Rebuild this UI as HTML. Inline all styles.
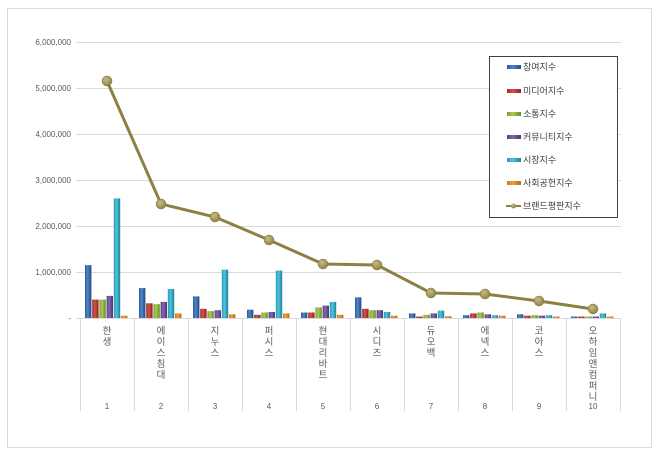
<!DOCTYPE html>
<html><head><meta charset="utf-8"><style>
html,body{margin:0;padding:0;background:#fff;}
svg{display:block;font-family:"Liberation Sans","Noto Sans CJK KR",sans-serif;}
</style></head><body>
<svg width="660" height="453" viewBox="0 0 660 453" xmlns="http://www.w3.org/2000/svg">
<defs>
<linearGradient id="g0" x1="0" x2="1"><stop offset="0" stop-color="#2a5a9a"/><stop offset=".4" stop-color="#4f86c6"/><stop offset="1" stop-color="#1f4a85"/></linearGradient>
<linearGradient id="g1" x1="0" x2="1"><stop offset="0" stop-color="#a02826"/><stop offset=".4" stop-color="#d4504d"/><stop offset="1" stop-color="#8e2220"/></linearGradient>
<linearGradient id="g2" x1="0" x2="1"><stop offset="0" stop-color="#7a9a30"/><stop offset=".4" stop-color="#a8cc55"/><stop offset="1" stop-color="#6a8a28"/></linearGradient>
<linearGradient id="g3" x1="0" x2="1"><stop offset="0" stop-color="#5a3f82"/><stop offset=".4" stop-color="#8466b0"/><stop offset="1" stop-color="#4e3672"/></linearGradient>
<linearGradient id="g4" x1="0" x2="1"><stop offset="0" stop-color="#2a96b0"/><stop offset=".4" stop-color="#4fc4dc"/><stop offset="1" stop-color="#1f8198"/></linearGradient>
<linearGradient id="g5" x1="0" x2="1"><stop offset="0" stop-color="#d07818"/><stop offset=".4" stop-color="#f4a040"/><stop offset="1" stop-color="#b86610"/></linearGradient>
<radialGradient id="mk" cx=".4" cy=".35" r=".7"><stop offset="0" stop-color="#c8bc80"/><stop offset="1" stop-color="#8a7e45"/></radialGradient>
</defs>
<rect x="7.5" y="8.5" width="644" height="439" fill="#fff" stroke="#d9d9d9"/>
<g stroke="#d9d9d9" stroke-width="1">
<line x1="76" y1="42.5" x2="621" y2="42.5"/>
<line x1="76" y1="88.5" x2="621" y2="88.5"/>
<line x1="76" y1="134.5" x2="621" y2="134.5"/>
<line x1="76" y1="180.5" x2="621" y2="180.5"/>
<line x1="76" y1="226.5" x2="621" y2="226.5"/>
<line x1="76" y1="272.5" x2="621" y2="272.5"/>
<line x1="76" y1="318.5" x2="621" y2="318.5"/>
</g>
<g font-size="8" fill="#595959" text-anchor="end">
<text x="71" y="45">6,000,000</text>
<text x="71" y="91">5,000,000</text>
<text x="71" y="137">4,000,000</text>
<text x="71" y="183">3,000,000</text>
<text x="71" y="229">2,000,000</text>
<text x="71" y="275">1,000,000</text>
<text x="71" y="321">-</text>
</g>
<g stroke="#d9d9d9">
<line x1="80.5" y1="318" x2="80.5" y2="411"/><line x1="134.5" y1="318" x2="134.5" y2="411"/><line x1="188.5" y1="318" x2="188.5" y2="411"/><line x1="242.5" y1="318" x2="242.5" y2="411"/><line x1="296.5" y1="318" x2="296.5" y2="411"/><line x1="350.5" y1="318" x2="350.5" y2="411"/><line x1="404.5" y1="318" x2="404.5" y2="411"/><line x1="458.5" y1="318" x2="458.5" y2="411"/><line x1="512.5" y1="318" x2="512.5" y2="411"/><line x1="566.5" y1="318" x2="566.5" y2="411"/><line x1="620.5" y1="318" x2="620.5" y2="411"/>
</g>
<g>
<rect x="85" y="265.1" width="6.4" height="52.9" fill="url(#g0)"/><rect x="92.2" y="299.6" width="6.4" height="18.4" fill="url(#g1)"/><rect x="99.4" y="299.6" width="6.4" height="18.4" fill="url(#g2)"/><rect x="106.6" y="295.9" width="6.4" height="22.1" fill="url(#g3)"/><rect x="113.8" y="198.4" width="6.4" height="119.6" fill="url(#g4)"/><rect x="121" y="315.7" width="6.4" height="2.3" fill="url(#g5)"/>
<rect x="139" y="288.1" width="6.4" height="29.9" fill="url(#g0)"/><rect x="146.2" y="303.3" width="6.4" height="14.7" fill="url(#g1)"/><rect x="153.4" y="304.2" width="6.4" height="13.8" fill="url(#g2)"/><rect x="160.6" y="301.9" width="6.4" height="16.1" fill="url(#g3)"/><rect x="167.8" y="289" width="6.4" height="29" fill="url(#g4)"/><rect x="175" y="313.4" width="6.4" height="4.6" fill="url(#g5)"/>
<rect x="193" y="296.4" width="6.4" height="21.6" fill="url(#g0)"/><rect x="200.2" y="308.8" width="6.4" height="9.2" fill="url(#g1)"/><rect x="207.4" y="311.1" width="6.4" height="6.9" fill="url(#g2)"/><rect x="214.6" y="310.2" width="6.4" height="7.8" fill="url(#g3)"/><rect x="221.8" y="269.7" width="6.4" height="48.3" fill="url(#g4)"/><rect x="229" y="314.3" width="6.4" height="3.7" fill="url(#g5)"/>
<rect x="247" y="309.7" width="6.4" height="8.3" fill="url(#g0)"/><rect x="254.2" y="314.8" width="6.4" height="3.2" fill="url(#g1)"/><rect x="261.4" y="312.5" width="6.4" height="5.5" fill="url(#g2)"/><rect x="268.6" y="312" width="6.4" height="6" fill="url(#g3)"/><rect x="275.8" y="270.6" width="6.4" height="47.4" fill="url(#g4)"/><rect x="283" y="313.4" width="6.4" height="4.6" fill="url(#g5)"/>
<rect x="301" y="312.5" width="6.4" height="5.5" fill="url(#g0)"/><rect x="308.2" y="312.5" width="6.4" height="5.5" fill="url(#g1)"/><rect x="315.4" y="307.4" width="6.4" height="10.6" fill="url(#g2)"/><rect x="322.6" y="305.6" width="6.4" height="12.4" fill="url(#g3)"/><rect x="329.8" y="301.9" width="6.4" height="16.1" fill="url(#g4)"/><rect x="337" y="314.8" width="6.4" height="3.2" fill="url(#g5)"/>
<rect x="355" y="297.3" width="6.4" height="20.7" fill="url(#g0)"/><rect x="362.2" y="308.8" width="6.4" height="9.2" fill="url(#g1)"/><rect x="369.4" y="310.2" width="6.4" height="7.8" fill="url(#g2)"/><rect x="376.6" y="310.2" width="6.4" height="7.8" fill="url(#g3)"/><rect x="383.8" y="312" width="6.4" height="6" fill="url(#g4)"/><rect x="391" y="315.7" width="6.4" height="2.3" fill="url(#g5)"/>
<rect x="409" y="313.4" width="6.4" height="4.6" fill="url(#g0)"/><rect x="416.2" y="316.5" width="6.4" height="1.5" fill="url(#g1)"/><rect x="423.4" y="314.8" width="6.4" height="3.2" fill="url(#g2)"/><rect x="430.6" y="313.4" width="6.4" height="4.6" fill="url(#g3)"/><rect x="437.8" y="310.6" width="6.4" height="7.4" fill="url(#g4)"/><rect x="445" y="316.2" width="6.4" height="1.8" fill="url(#g5)"/>
<rect x="463" y="315.2" width="6.4" height="2.8" fill="url(#g0)"/><rect x="470.2" y="313.4" width="6.4" height="4.6" fill="url(#g1)"/><rect x="477.4" y="312.5" width="6.4" height="5.5" fill="url(#g2)"/><rect x="484.6" y="314.3" width="6.4" height="3.7" fill="url(#g3)"/><rect x="491.8" y="315.2" width="6.4" height="2.8" fill="url(#g4)"/><rect x="499" y="315.7" width="6.4" height="2.3" fill="url(#g5)"/>
<rect x="517" y="314.3" width="6.4" height="3.7" fill="url(#g0)"/><rect x="524.2" y="315.7" width="6.4" height="2.3" fill="url(#g1)"/><rect x="531.4" y="315.2" width="6.4" height="2.8" fill="url(#g2)"/><rect x="538.6" y="315.7" width="6.4" height="2.3" fill="url(#g3)"/><rect x="545.8" y="315.2" width="6.4" height="2.8" fill="url(#g4)"/><rect x="553" y="316.5" width="6.4" height="1.5" fill="url(#g5)"/>
<rect x="571" y="316.5" width="6.4" height="1.5" fill="url(#g0)"/><rect x="578.2" y="316.5" width="6.4" height="1.5" fill="url(#g1)"/><rect x="585.4" y="316.5" width="6.4" height="1.5" fill="url(#g2)"/><rect x="592.6" y="316.5" width="6.4" height="1.5" fill="url(#g3)"/><rect x="599.8" y="313.4" width="6.4" height="4.6" fill="url(#g4)"/><rect x="607" y="316.5" width="6.4" height="1.5" fill="url(#g5)"/>
</g>
<g font-size="9.5" fill="#595959" text-anchor="middle">
<text x="107" y="334">한</text><text x="107" y="345">생</text>
<text x="161" y="334">에</text><text x="161" y="345">이</text><text x="161" y="356">스</text><text x="161" y="367">침</text><text x="161" y="378">대</text>
<text x="215" y="334">지</text><text x="215" y="345">누</text><text x="215" y="356">스</text>
<text x="269" y="334">퍼</text><text x="269" y="345">시</text><text x="269" y="356">스</text>
<text x="323" y="334">현</text><text x="323" y="345">대</text><text x="323" y="356">리</text><text x="323" y="367">바</text><text x="323" y="378">트</text>
<text x="377" y="334">시</text><text x="377" y="345">디</text><text x="377" y="356">즈</text>
<text x="431" y="334">듀</text><text x="431" y="345">오</text><text x="431" y="356">백</text>
<text x="485" y="334">에</text><text x="485" y="345">넥</text><text x="485" y="356">스</text>
<text x="539" y="334">코</text><text x="539" y="345">아</text><text x="539" y="356">스</text>
<text x="593" y="334">오</text><text x="593" y="345">하</text><text x="593" y="356">임</text><text x="593" y="367">앤</text><text x="593" y="378">컴</text><text x="593" y="389">퍼</text><text x="593" y="400">니</text>
</g>
<g font-size="8" fill="#595959" text-anchor="middle">
<text x="107" y="409">1</text><text x="161" y="409">2</text><text x="215" y="409">3</text><text x="269" y="409">4</text><text x="323" y="409">5</text><text x="377" y="409">6</text><text x="431" y="409">7</text><text x="485" y="409">8</text><text x="539" y="409">9</text><text x="593" y="409">10</text>
</g>
<polyline fill="none" stroke="#8c8044" stroke-width="3" points="107,81 161,204 215,217 269,240 323,264 377,265 431,293 485,294 539,301 593,309"/>
<g fill="url(#mk)" stroke="#7a6f3a" stroke-width=".5">
<circle cx="107" cy="81" r="5"/><circle cx="161" cy="204" r="5"/><circle cx="215" cy="217" r="5"/><circle cx="269" cy="240" r="5"/><circle cx="323" cy="264" r="5"/><circle cx="377" cy="265" r="5"/><circle cx="431" cy="293" r="5"/><circle cx="485" cy="294" r="5"/><circle cx="539" cy="301" r="5"/><circle cx="593" cy="309" r="5"/>
</g>
<rect x="489.5" y="56.5" width="128" height="161" fill="#fff" stroke="#404040"/>
<g font-size="9" fill="#404040">
<rect x="507" y="65" width="14" height="4" fill="url(#g0)"/><text x="523" y="70">참여지수</text>
<rect x="507" y="89" width="14" height="4" fill="url(#g1)"/><text x="523" y="94">미디어지수</text>
<rect x="507" y="112" width="14" height="4" fill="url(#g2)"/><text x="523" y="117">소통지수</text>
<rect x="507" y="135" width="14" height="4" fill="url(#g3)"/><text x="523" y="140">커뮤니티지수</text>
<rect x="507" y="158" width="14" height="4" fill="url(#g4)"/><text x="523" y="163">시장지수</text>
<rect x="507" y="181" width="14" height="4" fill="url(#g5)"/><text x="523" y="186">사회공헌지수</text>
<line x1="506" y1="206" x2="521" y2="206" stroke="#8c8044" stroke-width="2"/><circle cx="513.5" cy="206" r="2.5" fill="url(#mk)"/><text x="523" y="209">브랜드평판지수</text>
</g>
</svg>
</body></html>
